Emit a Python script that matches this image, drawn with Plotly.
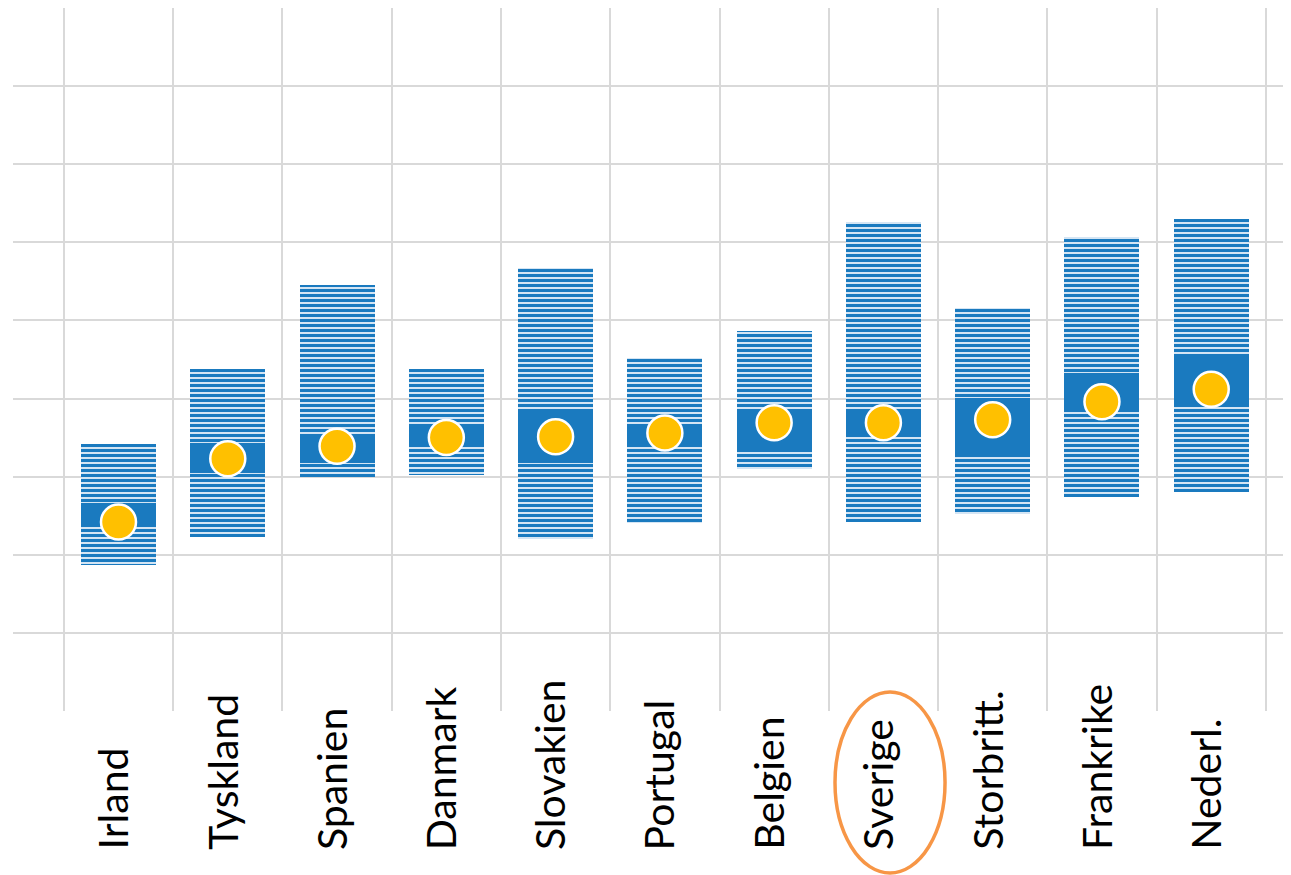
import plotly.graph_objects as go

countries = ["Irland", "Tyskland", "Spanien", "Danmark", "Slovakien", "Portugal",
             "Belgien", "Sverige", "Storbritt.", "Frankrike", "Nederl."]
range_low = [1.87, 2.23, 3.00, 3.02, 2.20, 2.41, 3.10, 2.42, 2.52, 2.74, 2.80]
range_high = [3.42, 4.38, 5.45, 4.38, 5.67, 4.52, 4.87, 6.26, 5.16, 6.07, 6.30]
band_low = [2.36, 3.05, 3.18, 3.38, 3.18, 3.42, 3.34, 3.55, 3.25, 3.84, 3.92]
band_high = [2.66, 3.43, 3.52, 3.65, 3.85, 3.67, 3.85, 3.84, 4.01, 4.33, 4.55]
point = [2.42, 3.23, 3.39, 3.50, 3.51, 3.56, 3.69, 3.69, 3.73, 3.96, 4.12]

pos = list(range(len(countries)))
BLUE = "#1a7abf"
GRID = "#d9d9d9"
W = 0.686

fig = go.Figure()
fig.add_trace(go.Bar(
    x=pos, base=range_low, y=[h - l for h, l in zip(range_high, range_low)],
    width=W,
    marker=dict(color="#ffffff", line=dict(width=0),
                pattern=dict(shape="-", fgcolor=BLUE, bgcolor="#d4e5f4",
                             size=5, solidity=0.6, fillmode="replace")),
    hoverinfo="skip", showlegend=False))
fig.add_trace(go.Bar(
    x=pos, base=band_low, y=[h - l for h, l in zip(band_high, band_low)],
    width=W, marker=dict(color=BLUE, line=dict(width=0)),
    hoverinfo="skip", showlegend=False))
fig.add_trace(go.Scatter(
    x=pos, y=point, mode="markers",
    marker=dict(size=35, color="#FFC000", line=dict(color="white", width=2.5)),
    showlegend=False))

for i, c in enumerate(countries):
    fig.add_annotation(x=i, xref="x", y=-0.2006, yref="paper",
                       text=c, textangle=-90, showarrow=False,
                       xanchor="center", yanchor="bottom", xshift=-6,
                       font=dict(family="Lato", size=41, color="black"))

fig.add_shape(type="circle", xref="x", yref="paper",
              x0=6.557, x1=7.564, y0=-0.2304, y1=0.027,
              line=dict(color="#F79646", width=3.5), layer="above")

fig.update_layout(
    width=1291, height=875,
    margin=dict(l=5, r=8, t=0, b=172),
    plot_bgcolor="white", paper_bgcolor="white",
    barmode="overlay", bargap=0,
    xaxis=dict(range=[-0.9655, 10.73], tickvals=[i - 0.5 for i in range(12)],
               showticklabels=False, showgrid=True, gridcolor=GRID, gridwidth=2,
               zeroline=False, ticks=""),
    yaxis=dict(range=[0, 9], dtick=1, tick0=0, showticklabels=False,
               showgrid=True, gridcolor=GRID, gridwidth=2, zeroline=False,
               ticks=""),
)
fig.write_html("out.html")
